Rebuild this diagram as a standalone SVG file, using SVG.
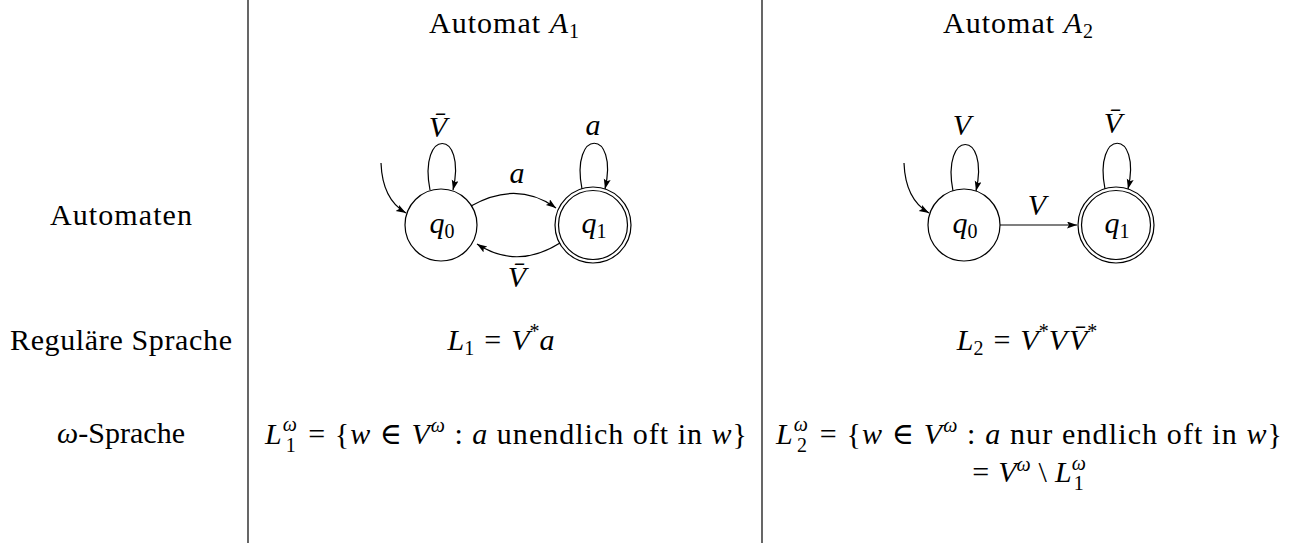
<svg xmlns="http://www.w3.org/2000/svg" width="1295" height="543" viewBox="0 0 1295 543">
<style>
.t{font-family:"Liberation Serif","DejaVu Serif",serif;font-size:30px;fill:#000}
.i{font-style:italic}
.s{font-size:20px}
.c{text-anchor:middle}
.st{fill:none;stroke:#000;stroke-width:1.2}
.e{fill:none;stroke:#000;stroke-width:1.2;marker-end:url(#ah)}
</style>
<defs>
<marker id="ah" markerUnits="userSpaceOnUse" markerWidth="11" markerHeight="8" refX="10" refY="3.5" orient="auto">
<path d="M0,0 L10,3.5 L0,7 L2,3.5 z" fill="#000"/>
</marker>
</defs>
<rect width="1295" height="543" fill="#fff"/>

<g id="grid">
<line x1="248" y1="0" x2="248" y2="543" stroke="#000" stroke-width="1.2"/>
<line x1="762" y1="0" x2="762" y2="543" stroke="#000" stroke-width="1.2"/>
</g>

<g id="headers">
<text class="t c" x="504" y="33" textLength="150">Automat <tspan class="i">A</tspan><tspan class="s" dy="5">1</tspan></text>
<text class="t c" x="1018" y="33" textLength="150">Automat <tspan class="i">A</tspan><tspan class="s" dy="5">2</tspan></text>
<text class="t c" x="121" y="225" textLength="142">Automaten</text>
<text class="t c" x="121" y="350" textLength="222">Reguläre Sprache</text>
<text class="t c" x="121" y="443" textLength="128"><tspan class="i">ω</tspan>-Sprache</text>
</g>

<g id="languages">
<text class="t c" x="501" y="350"><tspan class="i">L</tspan><tspan class="s" dy="5">1</tspan><tspan dx="10" dy="-5">=</tspan><tspan class="i" dx="10">V</tspan><tspan class="s" dy="-12">*</tspan><tspan class="i" dy="12">a</tspan></text>
<text class="t c" x="1027" y="350"><tspan class="i">L</tspan><tspan class="s" dy="5">2</tspan><tspan dx="10" dy="-5">=</tspan><tspan class="i" dx="10">V</tspan><tspan class="s" dy="-12">*</tspan><tspan class="i" dy="12">V</tspan><tspan class="i" dx="2">V̄</tspan><tspan class="s" dy="-12">*</tspan></text>
<text class="t c" x="506" y="444" textLength="482"><tspan class="i">L</tspan><tspan class="s i" dy="-13">ω</tspan><tspan class="s" dx="-12" dy="21">1</tspan><tspan dx="3" dy="-8"> = {</tspan><tspan class="i">w</tspan> ∈ <tspan class="i">V</tspan><tspan class="s i" dy="-12">ω</tspan><tspan dy="12"> : </tspan><tspan class="i">a</tspan> unendlich oft in <tspan class="i">w</tspan>}</text>
<text class="t c" x="1029" y="444" textLength="506"><tspan class="i">L</tspan><tspan class="s i" dy="-13">ω</tspan><tspan class="s" dx="-12" dy="21">2</tspan><tspan dx="3" dy="-8"> = {</tspan><tspan class="i">w</tspan> ∈ <tspan class="i">V</tspan><tspan class="s i" dy="-12">ω</tspan><tspan dy="12"> : </tspan><tspan class="i">a</tspan> nur endlich oft in <tspan class="i">w</tspan>}</text>
<text class="t c" x="1029" y="482">=<tspan class="i" dx="9">V</tspan><tspan class="s i" dy="-11">ω</tspan><tspan dx="8" dy="11">\</tspan><tspan class="i" dx="8">L</tspan><tspan class="s i" dy="-12">ω</tspan><tspan class="s" dx="-12" dy="20">1</tspan></text>
</g>

<g id="a1_q0">
<circle class="st" cx="441" cy="225" r="36"/>
<text class="t c" x="442" y="233"><tspan class="i">q</tspan><tspan class="s" dy="5">0</tspan></text>
</g>
<g id="a1_q1">
<circle class="st" cx="593" cy="225" r="38"/>
<circle class="st" cx="593" cy="225" r="34.5"/>
<text class="t c" x="594" y="233"><tspan class="i">q</tspan><tspan class="s" dy="5">1</tspan></text>
</g>
<g id="a2_q0">
<circle class="st" cx="964" cy="225" r="36"/>
<text class="t c" x="965" y="233"><tspan class="i">q</tspan><tspan class="s" dy="5">0</tspan></text>
</g>
<g id="a2_q1">
<circle class="st" cx="1116" cy="225" r="38"/>
<circle class="st" cx="1116" cy="225" r="34.5"/>
<text class="t c" x="1117" y="233"><tspan class="i">q</tspan><tspan class="s" dy="5">1</tspan></text>
</g>

<g id="connectors">
<path class="e" d="M381,163 C382,190 392,205 406,213"/>
<path class="e" d="M430,190 C418,128 467,128 453,190"/>
<path class="e" d="M471,206 Q517,180 556,208"/>
<path class="e" d="M560,243 Q517,270 477,244"/>
<path class="e" d="M582,189 C570,128 619,128 605,189"/>
<path class="e" d="M904,163 C905,190 915,205 929,213"/>
<path class="e" d="M953,191 C941,129 990,129 976,191"/>
<path class="e" d="M1000,225 L1077,225"/>
<path class="e" d="M1105,189 C1093,128 1142,128 1128,189"/>
</g>

<g id="edge_labels">
<text class="t c i" x="438" y="137">V̄</text>
<text class="t c i" x="593" y="135">a</text>
<text class="t c i" x="517" y="183">a</text>
<text class="t c i" x="517" y="287">V̄</text>
<text class="t c i" x="962" y="135">V</text>
<text class="t c i" x="1113" y="133">V̄</text>
<text class="t c i" x="1037" y="215">V</text>
</g>
</svg>
